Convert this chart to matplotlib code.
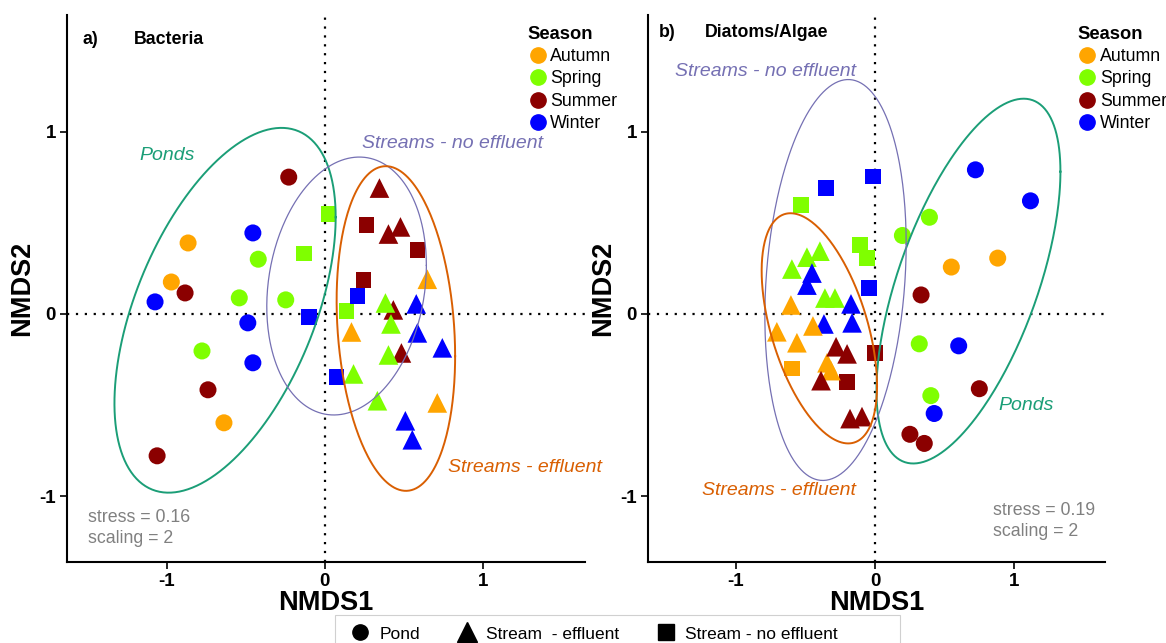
import matplotlib
matplotlib.use("Agg")
import matplotlib.pyplot as plt
from matplotlib.lines import Line2D
from matplotlib.patches import Rectangle
import numpy as np

plt.rcParams['font.family'] = ['Liberation Sans', 'DejaVu Sans']

# season colours
seasons = ["Autumn", "Spring", "Summer", "Winter"]
season_cols = {"Autumn": "#FFA500", "Spring": "#7FFF00", "Summer": "#8B0000", "Winter": "#0000FF"}
group_cols = {"Ponds": "#1B9E77", "Streams - effluent": "#D95F02", "Streams - no effluent": "#7570B3"}

# ---- a) Bacteria ----
bac_pond_x = [-0.864, -0.97, -0.637, -0.42, -0.54, -0.246, -0.776, -0.227, -0.883, -0.738, -1.06, -0.454, -1.073, -0.486, -0.454]
bac_pond_y = [0.389, 0.175, -0.597, 0.30, 0.088, 0.077, -0.203, 0.75, 0.115, -0.416, -0.778, 0.444, 0.066, -0.049, -0.268]
bac_pond_s = ["Autumn"] * 3 + ["Spring"] * 4 + ["Summer"] * 4 + ["Winter"] * 4

bac_noeff_x = [0.025, -0.13, 0.139, 0.265, 0.587, 0.246, -0.10, 0.208, 0.076]
bac_noeff_y = [0.548, 0.33, 0.016, 0.488, 0.35, 0.186, -0.016, 0.099, -0.345]
bac_noeff_s = ["Spring"] * 3 + ["Summer"] * 3 + ["Winter"] * 3

bac_eff_x = [0.347, 0.48, 0.404, 0.435, 0.486, 0.65, 0.17, 0.713, 0.385, 0.42, 0.404, 0.183, 0.334, 0.58, 0.587, 0.745, 0.511, 0.555]
bac_eff_y = [0.69, 0.477, 0.438, 0.022, -0.214, 0.19, -0.099, -0.488, 0.06, -0.055, -0.225, -0.329, -0.476, 0.055, -0.104, -0.186, -0.586, -0.69]
bac_eff_s = ["Summer"] * 5 + ["Autumn"] * 3 + ["Spring"] * 5 + ["Winter"] * 5

# ellipses: centre x, centre y, half-width x, half-height y, correlation
bac_ell = {
    "Ponds": (-0.63, 0.02, 0.70, 1.00, 0.51),
    "Streams - no effluent": (0.139, 0.153, 0.505, 0.707, 0.16),
    "Streams - effluent": (0.451, -0.08, 0.375, 0.89, -0.17),
}
bac_lab = {
    "Ponds": (-0.997, 0.871),
    "Streams - no effluent": (0.808, 0.932),
    "Streams - effluent": (1.27, -0.844),
}

# ---- b) Diatoms/Algae ----
dia_pond_x = [0.72, 1.115, 0.60, 0.424, 0.39, 0.196, 0.317, 0.40, 0.88, 0.547, 0.33, 0.748, 0.25, 0.353]
dia_pond_y = [0.79, 0.62, -0.175, -0.546, 0.53, 0.43, -0.164, -0.448, 0.306, 0.257, 0.104, -0.41, -0.66, -0.71]
dia_pond_s = ["Winter"] * 4 + ["Spring"] * 4 + ["Autumn"] * 2 + ["Summer"] * 4

dia_noeff_x = [-0.014, -0.353, -0.043, -0.532, -0.108, -0.058, 0.0, -0.201, -0.597]
dia_noeff_y = [0.754, 0.689, 0.142, 0.596, 0.377, 0.306, -0.213, -0.372, -0.30]
dia_noeff_s = ["Winter"] * 3 + ["Spring"] * 3 + ["Summer"] * 2 + ["Autumn"]

dia_eff_x = [-0.396, -0.489, -0.597, -0.36, -0.288, -0.453, -0.489, -0.173, -0.367, -0.165,
             -0.604, -0.705, -0.446, -0.561, -0.345, -0.317, -0.28, -0.201, -0.388, -0.18, -0.094]
dia_eff_y = [0.344, 0.311, 0.246, 0.087, 0.087, 0.224, 0.158, 0.055, -0.055, -0.049,
             0.049, -0.098, -0.066, -0.158, -0.268, -0.311, -0.18, -0.219, -0.366, -0.574, -0.563]
dia_eff_s = ["Spring"] * 5 + ["Winter"] * 5 + ["Autumn"] * 6 + ["Summer"] * 5

dia_ell = {
    "Ponds": (0.67, 0.18, 0.66, 1.0, 0.6),
    "Streams - no effluent": (-0.284, 0.186, 0.507, 1.099, 0.18),
    "Streams - effluent": (-0.40, -0.079, 0.414, 0.631, -0.5),
}
dia_lab = {
    "Ponds": (1.086, -0.503),
    "Streams - no effluent": (-0.784, 1.328),
    "Streams - effluent": (-0.69, -0.967),
}


def ellipse_xy(h, k, rx, ry, rho, n=300):
    t = np.linspace(0, 2 * np.pi, n)
    return h + rx * np.cos(t), k + ry * (rho * np.cos(t) + np.sqrt(1 - rho ** 2) * np.sin(t))


def panel(ax, pts, ell, lab, letter, title, stress, stress_pos):
    ax.axhline(0, color="black", ls=(0, (1, 3)), lw=1.6, zorder=1)
    ax.axvline(0, color="black", ls=(0, (1, 3)), lw=1.6, zorder=1)
    for xs, ys, ss, mk, size in pts:
        cols = [season_cols[s] for s in ss]
        ax.scatter(xs, ys, c=cols, marker=mk, s=size, linewidths=0, zorder=3)
    for g, (h, k, rx, ry, rho) in ell.items():
        ex, ey = ellipse_xy(h, k, rx, ry, rho)
        lw = 0.9 if g == "Streams - no effluent" else 1.4
        ax.plot(ex, ey, color=group_cols[g], lw=lw, zorder=4)
        tx, ty = lab[g]
        ax.text(tx, ty, g, color=group_cols[g], fontsize=14, style="italic", ha="center", va="center")
    ax.text(letter[1], letter[2], letter[0], transform=ax.transAxes, fontsize=12.8, fontweight="bold", va="center")
    ax.text(title[1], title[2], title[0], transform=ax.transAxes, fontsize=12.8, fontweight="bold", va="center")
    ax.text(stress_pos[0], stress_pos[1], "stress = " + stress + "\nscaling = 2", transform=ax.transAxes,
            fontsize=12.8, color="#808080", va="bottom", linespacing=1.3)
    ax.set_xlim(-1.63, 1.65)
    ax.set_ylim(-1.36, 1.64)
    ax.set_xticks([-1, 0, 1])
    ax.set_yticks([-1, 0, 1])
    ax.set_xticklabels(["-1", "0", "1"])
    ax.set_yticklabels(["-1", "0", "1"])
    for lbl in ax.get_xticklabels() + ax.get_yticklabels():
        lbl.set_fontweight("bold")
        lbl.set_fontsize(13.5)
    ax.tick_params(length=5, width=1.2, color="black", pad=3)
    ax.spines["top"].set_visible(False)
    ax.spines["right"].set_visible(False)
    ax.spines["left"].set_linewidth(1.5)
    ax.spines["bottom"].set_linewidth(1.5)
    ax.set_xlabel("NMDS1", fontsize=19.5, fontweight="bold", labelpad=0)
    ax.set_ylabel("NMDS2", fontsize=19.5, fontweight="bold", labelpad=3)
    handles = [Line2D([], [], marker="o", ls="", color=season_cols[s], markersize=11, label=s) for s in seasons]
    return handles


fig = plt.figure(figsize=(11.66, 6.43), dpi=100)
ax1 = fig.add_axes([0.0575, 0.126, 0.4445, 0.851])
ax2 = fig.add_axes([0.5557, 0.126, 0.392, 0.851])

h1 = panel(ax1,
           [(bac_pond_x, bac_pond_y, bac_pond_s, "o", 150),
            (bac_noeff_x, bac_noeff_y, bac_noeff_s, "s", 125),
            (bac_eff_x, bac_eff_y, bac_eff_s, "^", 200)],
           bac_ell, bac_lab, ("a)", 0.029, 0.955), ("Bacteria", 0.129, 0.955), "0.16", (0.04, 0.027))
h2 = panel(ax2,
           [(dia_pond_x, dia_pond_y, dia_pond_s, "o", 150),
            (dia_noeff_x, dia_noeff_y, dia_noeff_s, "s", 125),
            (dia_eff_x, dia_eff_y, dia_eff_s, "^", 200)],
           dia_ell, dia_lab, ("b)", 0.024, 0.967), ("Diatoms/Algae", 0.125, 0.967), "0.19", (0.755, 0.04))

for ax, h, xa in [(ax1, h1, 0.889), (ax2, h2, 0.94)]:
    leg = ax.legend(handles=h, title="Season", loc="upper left", bbox_to_anchor=(xa, 0.98),
                    frameon=False, fontsize=12.8, handletextpad=0.15, handlelength=1.1,
                    labelspacing=0.3, borderpad=0, borderaxespad=0, alignment="left")
    leg.get_title().set_fontweight("bold")
    leg.get_title().set_fontsize(13.2)
    leg.set_clip_on(False)

# shape legend at the bottom, box drawn separately
shape_handles = [
    Line2D([], [], marker="o", ls="", color="black", markersize=11, label="Pond"),
    Line2D([], [], marker="^", ls="", color="black", markersize=14, label="Stream  - effluent"),
    Line2D([], [], marker="s", ls="", color="black", markersize=11, label="Stream - no effluent"),
]
fig.legend(handles=shape_handles, loc="center left", bbox_to_anchor=(0.3, 0.014), ncol=3,
           fontsize=12.5, frameon=False, handlelength=1.2, handletextpad=0.5,
           columnspacing=2.1, borderpad=0, borderaxespad=0)
fig.add_artist(Rectangle((335 / 1166, -0.02), 565 / 1166, 0.0635, transform=fig.transFigure,
                         fill=False, edgecolor="#D0D0D0", lw=0.8))

fig.savefig("out.png", dpi=100)
